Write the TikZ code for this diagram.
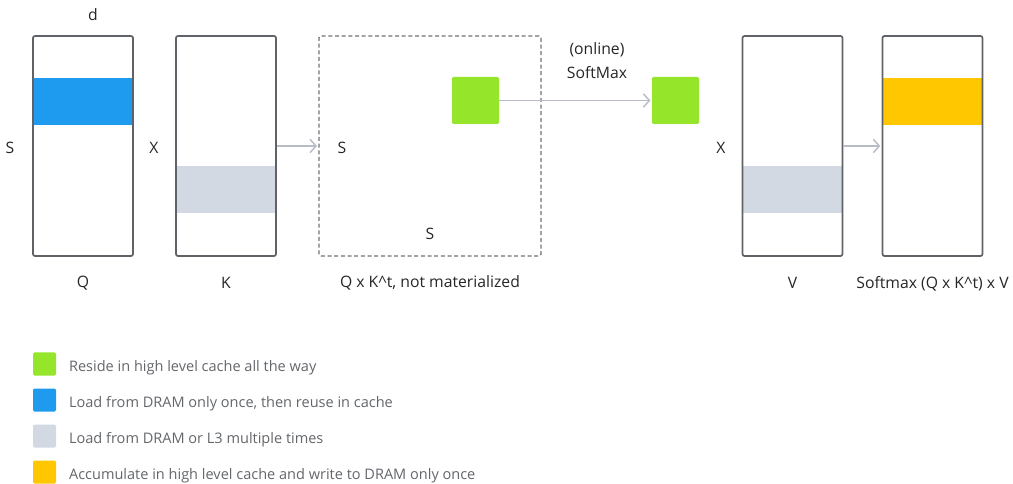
\documentclass[tikz,border=0pt]{standalone}
\usepackage{fontspec}
\setmainfont{Open Sans}
\usetikzlibrary{arrows.meta}
\usetikzlibrary{positioning}
\definecolor{cacheGreen}{HTML}{95E62B}
\definecolor{dramBlue}{HTML}{1E9BEF}
\definecolor{lthreeGray}{HTML}{D3D9E2}
\definecolor{accYellow}{HTML}{FFC700}
\definecolor{frameGray}{HTML}{5F6266}
\definecolor{arrowGray}{HTML}{B8BCC6}
\definecolor{legendText}{HTML}{63666B}
\tikzset{
  mat node/.style={
    draw=frameGray,
    line width=1.3pt,
    rounded corners=1.5pt,
    inner sep=0pt,
    minimum width=75pt,
    minimum height=165pt,
  }
}
\tikzset{
  band node/.style={
    inner sep=0pt,
    minimum width=75pt,
    minimum height=35.25pt,
  }
}
\tikzset{
  tile node/.style={
    inner sep=0pt,
    minimum size=35.25pt,
    rounded corners=1pt,
    fill=cacheGreen,
  }
}
\tikzset{
  key node/.style={
    inner sep=0pt,
    minimum size=17.25pt,
    rounded corners=1pt,
  }
}
\tikzset{
  label node/.style={
    text=black!85,
    font=\fontsize{11.8}{14}\selectfont,
    yshift=-1pt,
  }
}

\begin{document}
\begin{tikzpicture}[
    x=0.75pt, y=-0.75pt,
    >={Straight Barb[length=4.5pt,width=10pt]},
    flow/.style={->, draw=arrowGray, line width=1.1pt, shorten >=1pt},
    ]
    \useasboundingbox (0,0) rectangle (1013,484);

    % coloured rows first, frames on top
    \node[band node, fill=dramBlue] (qrow) at (83,101.5) {};
    \node[band node, fill=lthreeGray] (krow) at (226,189.5) {};
    \node[band node, fill=lthreeGray] (vrow) at (792.5,189.5) {};
    \node[band node, fill=accYellow] (orow) at (932.5,101.5) {};

    \node[mat node] (q) at (83,146) {};
    \node[mat node] (k) at (226,146) {};
    \node[mat node, draw=frameGray!90, line width=1pt, dash pattern=on 3pt off 2pt,
      minimum width=166.5pt] (qk) at (430,146) {};
    \node[mat node] (v) at (792.5,146) {};
    \node[mat node] (out) at (932.5,146) {};

    \node[tile node] (blk) at (475.5,100.5) {};
    \node[tile node] (sm) at (675.5,100.5) {};

    % dimension and operator labels
    \foreach \t/\x/\y/\n in {d/93/13/dlab, S/10/147/slab, X/154/147/xone,
        S/342/147/srow, S/430/233/scol, X/721/147/xtwo,
        (online)/597/48/onl, SoftMax/597/71/smax}{
      \node[label node] (\n) at (\x,\y) {\t};
    }

    \node[label node] (qname) at (83,282) {Q};
    \node[label node] (kname) at (226,282) {K};
    \node[label node] (qkname) at (430,282) {Q x K\textasciicircum t, not materialized};
    \node[label node] (vname) at (792.5,282) {V};
    \node[label node] (outname) at (932.5,282) {Softmax (Q x K\textasciicircum t) x V};

    \draw[flow] (k) -- (qk);
    \draw[flow] (blk) -- (sm);
    \draw[flow] (v) -- (out);

    % legend
    \foreach \c/\y/\t [count=\i] in {
        cacheGreen/364/Reside in high level cache all the way,
        dramBlue/400/{Load from DRAM only once, then reuse in cache},
        lthreeGray/436/Load from DRAM or L3 multiple times,
        accYellow/472/Accumulate in high level cache and write to DRAM only once}{
      \node[key node, fill=\c] (key\i) at (44.5,\y) {};
      \node[label node, text=legendText, font=\fontsize{10.9}{13}\selectfont,
        anchor=west, right=9.4pt of key\i.east, inner sep=0pt, yshift=-1.5pt] (keytext\i) {\t};
    }

  \end{tikzpicture}
\end{document}
